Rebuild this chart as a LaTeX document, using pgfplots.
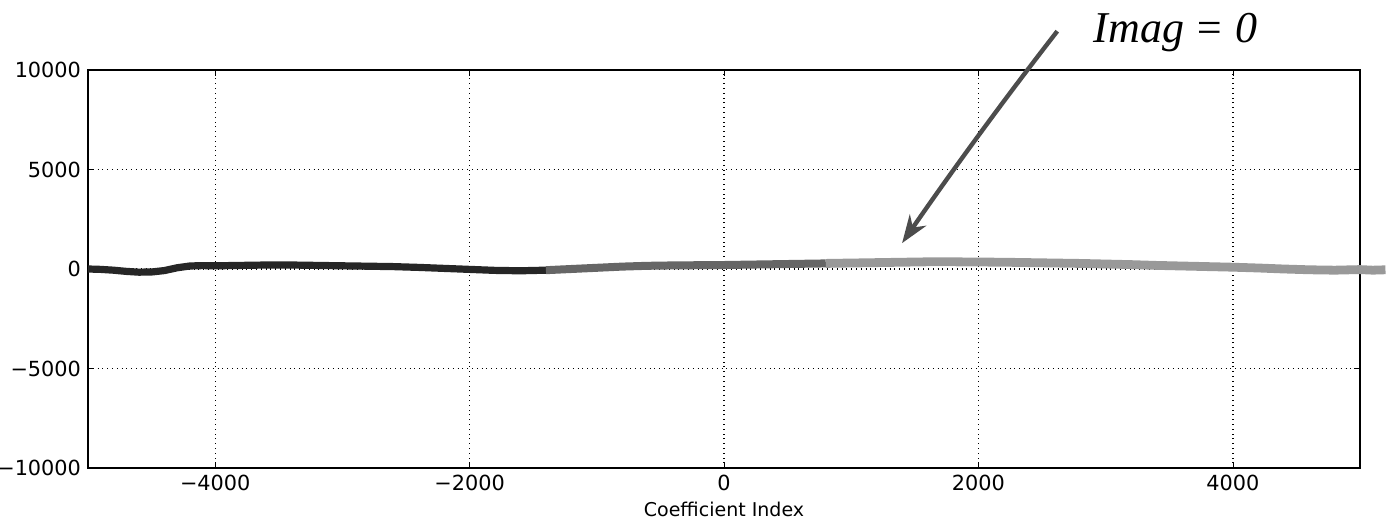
\documentclass[border=0pt]{standalone}
\usepackage{pgfplots}
\pgfplotsset{compat=1.18}
\usepackage{fontspec}
\setmainfont{DejaVu Sans}
\newfontfamily\hand{Liberation Serif}
\usetikzlibrary{arrows.meta}

\begin{document}
\begin{tikzpicture}
\begin{axis}[
    scale only axis,
    width=636pt, height=199pt,
    xmin=-5000, xmax=5000,
    ymin=-10000, ymax=10000,
    scaled ticks=false,
    xtick={-4000,-2000,0,2000,4000},
    xticklabels={−4000,−2000,0,2000,4000},
    ytick={-10000,-5000,0,5000,10000},
    yticklabels={−10000,−5000,0,5000,10000},
    grid=major,
    major grid style={black, dotted, line width=0.7pt},
    tick align=inside,
    major tick length=3pt,
    tick style={black},
    axis line style={black, line width=0.6pt},
    ticklabel style={font=\fontsize{10.4}{12}\selectfont},
    xlabel={Coefficient Index},
    xlabel style={font=\fontsize{9.5}{11}\selectfont, yshift=1pt},
    clip=false,
]
% dark part of the trace
\addplot[black!85, line width=3.6pt, line join=round] coordinates {
(-5000,0) (-4900,-20) (-4800,-60) (-4700,-120) (-4600,-160) (-4500,-150)
(-4400,-80) (-4300,60) (-4200,150) (-4100,170) (-4000,160) (-3800,180)
(-3600,200) (-3400,200) (-3200,180) (-3000,160) (-2800,140) (-2600,120)
(-2400,80) (-2200,30) (-2000,-20) (-1800,-70) (-1600,-90) (-1400,-60)
};
\addplot[black!60, line width=4pt, line join=round] coordinates {
(-1400,-60) (-1200,0) (-1000,60) (-800,120) (-600,160) (-400,180)
(-200,190) (0,200) (200,220) (400,240) (600,260) (800,280)
};
\addplot[black!40, line width=4.4pt, line join=round] coordinates {
(800,280) (1000,300) (1200,320) (1400,340) (1600,360) (1800,360)
(2000,350) (2200,340) (2400,320) (2600,300) (2800,280) (3000,250)
(3200,220) (3400,180) (3600,150) (3800,120) (4000,90) (4200,50)
(4400,0) (4600,-40) (4800,-60) (5000,-30) (5100,-60) (5200,-40)
};
% handwritten note
\draw[black!70, line width=2.2pt, -{Stealth[length=14pt, width=10pt, open]}]
    (axis cs:2620,11950) .. controls (axis cs:2200,8500) and (axis cs:1800,5000) .. (axis cs:1400,1300);
\node[anchor=west, font=\hand\itshape\fontsize{22}{24}\selectfont]
    at (axis cs:2850,11900) {Imag = 0};
\end{axis}
\pgfresetboundingbox
\path ([shift={(-44pt,-30pt)}]current axis.south west) rectangle ([shift={(18pt,35pt)}]current axis.north east);
\end{tikzpicture}
\end{document}
